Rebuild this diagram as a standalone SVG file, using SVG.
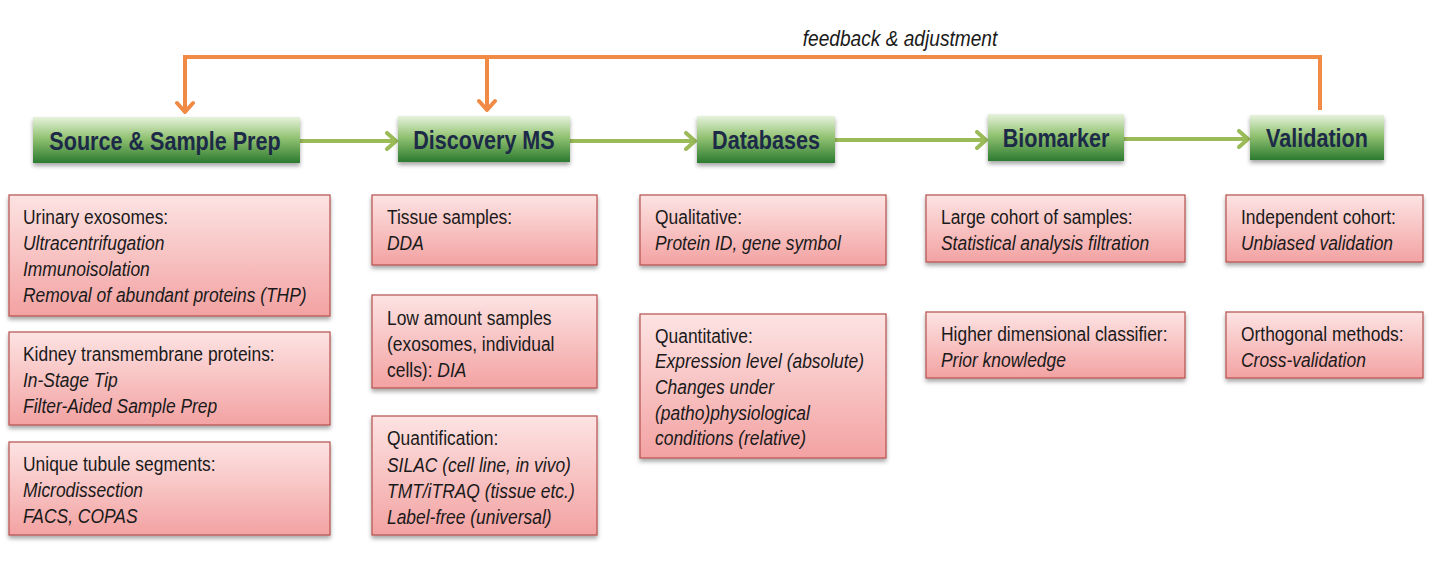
<svg xmlns="http://www.w3.org/2000/svg" width="1434" height="574" viewBox="0 0 1434 574">
<defs>
<linearGradient id="gGreen" x1="0" y1="0" x2="0" y2="1">
<stop offset="0" stop-color="#e6f2dc"/>
<stop offset="0.45" stop-color="#93c373"/>
<stop offset="1" stop-color="#2c7a30"/>
</linearGradient>
<linearGradient id="gPink" x1="0" y1="0" x2="0" y2="1">
<stop offset="0" stop-color="#fde3e3"/>
<stop offset="1" stop-color="#f3a2a2"/>
</linearGradient>
<filter id="sh" x="-5%" y="-10%" width="110%" height="130%">
<feDropShadow dx="0" dy="3" stdDeviation="2" flood-color="#000" flood-opacity="0.35"/>
</filter>
<marker id="ag" viewBox="0 0 14 20" refX="12" refY="10" markerWidth="14" markerHeight="20" orient="auto" markerUnits="userSpaceOnUse">
<path d="M3,2 L12,10 L3,18" fill="none" stroke="#9bbb59" stroke-width="4" stroke-linecap="round" stroke-linejoin="round"/>
</marker>
<marker id="ao" viewBox="0 0 14 20" refX="12" refY="10" markerWidth="14" markerHeight="20" orient="auto" markerUnits="userSpaceOnUse">
<path d="M3,2 L12,10 L3,18" fill="none" stroke="#f08a45" stroke-width="4" stroke-linecap="round" stroke-linejoin="round"/>
</marker>
</defs>
<style>
.hdr rect{fill:url(#gGreen);filter:url(#sh);}
.hdr text{font-family:"Liberation Sans",Arial,sans-serif;font-weight:bold;font-size:26px;fill:#1c2a48;text-anchor:middle;}
.box rect{fill:url(#gPink);stroke:#b5504d;stroke-width:1.2;filter:url(#sh);}
.box text{font-family:"Liberation Sans",Arial,sans-serif;font-size:21px;fill:#1a1a1a;}
.i{font-style:italic;}
.g{stroke:#9bbb59;stroke-width:4;fill:none;marker-end:url(#ag);}
.o{stroke:#f08a45;stroke-width:4;fill:none;}
.oa{stroke:#f08a45;stroke-width:4;fill:none;marker-end:url(#ao);}
.lbl{font-family:"Liberation Sans",Arial,sans-serif;font-style:italic;font-size:22px;fill:#1a1a1a;text-anchor:middle;}
</style>
<rect width="1434" height="574" fill="#ffffff"/>

<g id="connectors">
<path class="o" d="M185,57 L1320,57 L1320,110"/>
<path class="oa" d="M185,55 L185,112"/>
<path class="oa" d="M487,57 L487,110"/>
<path class="g" d="M300,141 L396,141"/>
<path class="g" d="M570,141 L695,141"/>
<path class="g" d="M835,140 L986,140"/>
<path class="g" d="M1124,139 L1248,139"/>
<text class="lbl" transform="translate(900,46) scale(0.87,1)">feedback &amp; adjustment</text>
</g>

<g id="h-source" class="hdr"><rect x="33" y="117" width="267" height="46"/><text transform="translate(165,150) scale(0.83,1)">Source &amp; Sample Prep</text></g>
<g id="h-discovery" class="hdr"><rect x="398" y="116" width="172" height="46"/><text transform="translate(484,149) scale(0.83,1)">Discovery MS</text></g>
<g id="h-databases" class="hdr"><rect x="697" y="116" width="138" height="47"/><text transform="translate(766,149) scale(0.83,1)">Databases</text></g>
<g id="h-biomarker" class="hdr"><rect x="988" y="114" width="136" height="47"/><text transform="translate(1056,147) scale(0.83,1)">Biomarker</text></g>
<g id="h-validation" class="hdr"><rect x="1250" y="115" width="134" height="45"/><text transform="translate(1317,147) scale(0.83,1)">Validation</text></g>

<g id="b-urinary" class="box"><rect x="9" y="195" width="321" height="121"/>
<g transform="translate(23,0) scale(0.83,1)">
<text y="224">Urinary exosomes:</text>
<text y="250" class="i">Ultracentrifugation</text>
<text y="276" class="i">Immunoisolation</text>
<text y="302" class="i">Removal of abundant proteins (THP)</text></g></g>
<g id="b-kidney" class="box"><rect x="9" y="332" width="321" height="93"/>
<g transform="translate(23,0) scale(0.83,1)">
<text y="361">Kidney transmembrane proteins:</text>
<text y="387" class="i">In-Stage Tip</text>
<text y="413" class="i">Filter-Aided Sample Prep</text></g></g>
<g id="b-tubule" class="box"><rect x="9" y="442" width="321" height="93"/>
<g transform="translate(23,0) scale(0.83,1)">
<text y="471">Unique tubule segments:</text>
<text y="497" class="i">Microdissection</text>
<text y="523" class="i">FACS, COPAS</text></g></g>

<g id="b-tissue" class="box"><rect x="372" y="195" width="225" height="70"/>
<g transform="translate(387,0) scale(0.83,1)">
<text y="224">Tissue samples:</text>
<text y="250" class="i">DDA</text></g></g>
<g id="b-low" class="box"><rect x="372" y="295" width="225" height="93"/>
<g transform="translate(387,0) scale(0.83,1)">
<text y="325">Low amount samples</text>
<text y="351">(exosomes, individual</text>
<text y="377">cells): <tspan class="i">DIA</tspan></text></g></g>
<g id="b-quant" class="box"><rect x="372" y="416" width="225" height="119"/>
<g transform="translate(387,0) scale(0.83,1)">
<text y="445">Quantification:</text>
<text y="472" class="i">SILAC (cell line, in vivo)</text>
<text y="498" class="i">TMT/iTRAQ (tissue etc.)</text>
<text y="524" class="i">Label-free (universal)</text></g></g>

<g id="b-qualitative" class="box"><rect x="640" y="195" width="246" height="70"/>
<g transform="translate(655,0) scale(0.83,1)">
<text y="224">Qualitative:</text>
<text y="250" class="i">Protein ID, gene symbol</text></g></g>
<g id="b-quantitative" class="box"><rect x="640" y="314" width="246" height="144"/>
<g transform="translate(655,0) scale(0.83,1)">
<text y="343">Quantitative:</text>
<text y="368" class="i">Expression level (absolute)</text>
<text y="394" class="i">Changes under</text>
<text y="420" class="i">(patho)physiological</text>
<text y="445" class="i">conditions (relative)</text></g></g>

<g id="b-large" class="box"><rect x="926" y="195" width="259" height="67"/>
<g transform="translate(941,0) scale(0.83,1)">
<text y="224">Large cohort of samples:</text>
<text y="250" class="i">Statistical analysis filtration</text></g></g>
<g id="b-higher" class="box"><rect x="926" y="312" width="259" height="66"/>
<g transform="translate(941,0) scale(0.83,1)">
<text y="341">Higher dimensional classifier:</text>
<text y="367" class="i">Prior knowledge</text></g></g>

<g id="b-independent" class="box"><rect x="1226" y="195" width="197" height="67"/>
<g transform="translate(1241,0) scale(0.83,1)">
<text y="224">Independent cohort:</text>
<text y="250" class="i">Unbiased validation</text></g></g>
<g id="b-orthogonal" class="box"><rect x="1226" y="312" width="197" height="66"/>
<g transform="translate(1241,0) scale(0.83,1)">
<text y="341">Orthogonal methods:</text>
<text y="367" class="i">Cross-validation</text></g></g>
</svg>
